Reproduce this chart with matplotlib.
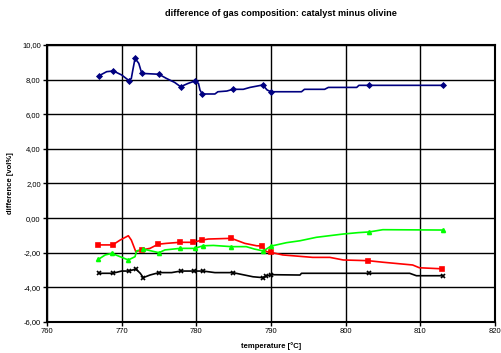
import matplotlib
matplotlib.use("Agg")
import matplotlib.pyplot as plt
from matplotlib.ticker import FuncFormatter, MultipleLocator

plt.rcParams['font.family'] = ['Liberation Sans', 'DejaVu Sans']

# continuous traces (temperature in °C, difference in vol%)
blueT = [767.0, 768.0, 768.9, 770.0, 771.0, 771.3, 771.5, 771.8, 772.3, 772.7, 775.0, 776.0,
         777.1, 777.9, 778.9, 779.8, 780.3, 780.5, 780.8, 782.5, 782.9, 784.1, 784.9, 786.3,
         787.2, 788.9, 789.5, 790.0, 794.1, 794.5, 797.2, 797.7, 801.5, 801.8, 803.1, 813.0]
blueV = [8.23, 8.46, 8.50, 8.27, 7.94, 8.07, 8.55, 9.23, 8.94, 8.36, 8.31, 8.07,
         7.84, 7.59, 7.78, 7.92, 7.78, 7.40, 7.17, 7.17, 7.30, 7.34, 7.44, 7.44,
         7.55, 7.69, 7.40, 7.30, 7.30, 7.44, 7.44, 7.55, 7.55, 7.67, 7.67, 7.67]

redT = [766.8, 768.8, 769.8, 770.9, 771.3, 771.9, 772.7, 773.8, 774.9, 776.0, 777.8, 779.6,
        780.8, 781.6, 784.7, 786.5, 788.1, 788.8, 789.4, 790.0, 791.6, 795.6, 797.9, 799.7,
        803.0, 805.0, 809.0, 809.9, 812.9]
redV = [-1.55, -1.55, -1.27, -1.02, -1.27, -1.94, -1.84, -1.75, -1.51, -1.46, -1.40, -1.40,
        -1.27, -1.21, -1.17, -1.46, -1.60, -1.61, -1.94, -1.98, -2.13, -2.27, -2.27, -2.42,
        -2.46, -2.55, -2.71, -2.87, -2.93]

greenT = [766.9, 767.8, 768.7, 769.8, 770.9, 771.8, 772.0, 772.9, 774.0, 775.0, 775.8, 777.8,
          779.8, 780.9, 782.3, 784.7, 786.7, 787.8, 789.0, 790.0, 792.1, 793.9, 796.1, 799.7,
          801.7, 803.2, 805.0, 813.0]
greenV = [-2.38, -2.13, -2.04, -2.23, -2.42, -2.23, -1.90, -1.79, -1.90, -2.00, -1.84, -1.75,
          -1.75, -1.60, -1.58, -1.65, -1.65, -1.79, -1.90, -1.62, -1.42, -1.31, -1.11, -0.92,
          -0.84, -0.80, -0.67, -0.69]

blackT = [767.0, 768.8, 770.0, 771.0, 771.9, 772.5, 772.9, 773.8, 775.0, 776.7, 777.9, 779.7,
          780.9, 782.5, 784.9, 787.6, 788.9, 789.4, 790.0, 793.9, 794.1, 808.6, 809.5, 813.0]
blackV = [-3.19, -3.19, -3.06, -3.06, -2.94, -3.19, -3.44, -3.29, -3.15, -3.15, -3.06, -3.06,
          -3.06, -3.15, -3.15, -3.39, -3.44, -3.35, -3.27, -3.29, -3.19, -3.19, -3.33, -3.33]

# measured points (markers)
blueMT = [767.0, 768.9, 771.0, 771.8, 772.7, 775.0, 777.9, 779.8, 780.8, 784.9, 788.9, 790.0, 803.1, 813.0]
blueMV = [8.23, 8.50, 7.94, 9.23, 8.36, 8.31, 7.59, 7.92, 7.17, 7.44, 7.69, 7.30, 7.67, 7.67]
redMT = [766.8, 768.8, 772.7, 774.9, 777.8, 779.6, 780.8, 784.7, 788.8, 790.0, 803.0, 812.9]
redMV = [-1.55, -1.55, -1.84, -1.51, -1.40, -1.40, -1.27, -1.17, -1.61, -1.98, -2.46, -2.93]
greenMT = [766.9, 768.7, 770.9, 772.9, 775.0, 777.8, 779.8, 780.9, 784.7, 789.0, 790.0, 803.2, 813.0]
greenMV = [-2.38, -2.04, -2.42, -1.79, -2.00, -1.75, -1.75, -1.60, -1.65, -1.90, -1.62, -0.80, -0.69]
blackMT = [767.0, 768.8, 771.0, 771.9, 772.9, 775.0, 777.9, 779.7, 780.9, 784.9, 788.9, 789.4, 790.0, 803.2, 813.0]
blackMV = [-3.19, -3.19, -3.06, -2.94, -3.44, -3.15, -3.06, -3.06, -3.06, -3.15, -3.44, -3.35, -3.27, -3.19, -3.33]

fig = plt.figure(figsize=(5.02, 3.53), dpi=100)
ax = fig.add_axes([0.0936, 0.088, 0.892, 0.7845])

series = [
    (blueT, blueV, blueMT, blueMV, '#000080', 'D', 2.4),
    (redT, redV, redMT, redMV, '#ff0000', 's', 2.2),
    (greenT, greenV, greenMT, greenMV, '#00ff00', '^', 2.8),
    (blackT, blackV, blackMT, blackMV, '#000000', 'x', 3.0),
]
for t, v, mt, mv, color, marker, ms in series:
    ax.plot(t, v, '-', color=color, linewidth=1.2, zorder=3)
    ax.plot(mt, mv, linestyle='none', marker=marker, color=color, markersize=ms,
            markeredgewidth=1.2, zorder=4)

ax.set_xlim(760, 820)
ax.set_ylim(-6, 10)
ax.xaxis.set_major_locator(MultipleLocator(10))
ax.yaxis.set_major_locator(MultipleLocator(2))
ax.yaxis.set_major_formatter(FuncFormatter(lambda v, p: ('%.2f' % v).replace('.', ',')))
ax.grid(True, color='black', linewidth=1.0)
ax.set_axisbelow(True)
for s in ax.spines.values():
    s.set_linewidth(1.5)
    s.set_color('black')
ax.tick_params(direction='out', length=3, width=1, labelsize=5.5, pad=1.5, colors='black')

fig.text(0.56, 0.963, 'difference of gas composition: catalyst minus olivine',
         fontsize=6.6, fontweight='bold', ha='center', va='center')
ax.set_xlabel('temperature [°C]', fontsize=5.5, fontweight='bold', labelpad=5)
ax.set_ylabel('difference [vol%]', fontsize=5.5, fontweight='bold', labelpad=6)

fig.savefig('out.png', dpi=100)
